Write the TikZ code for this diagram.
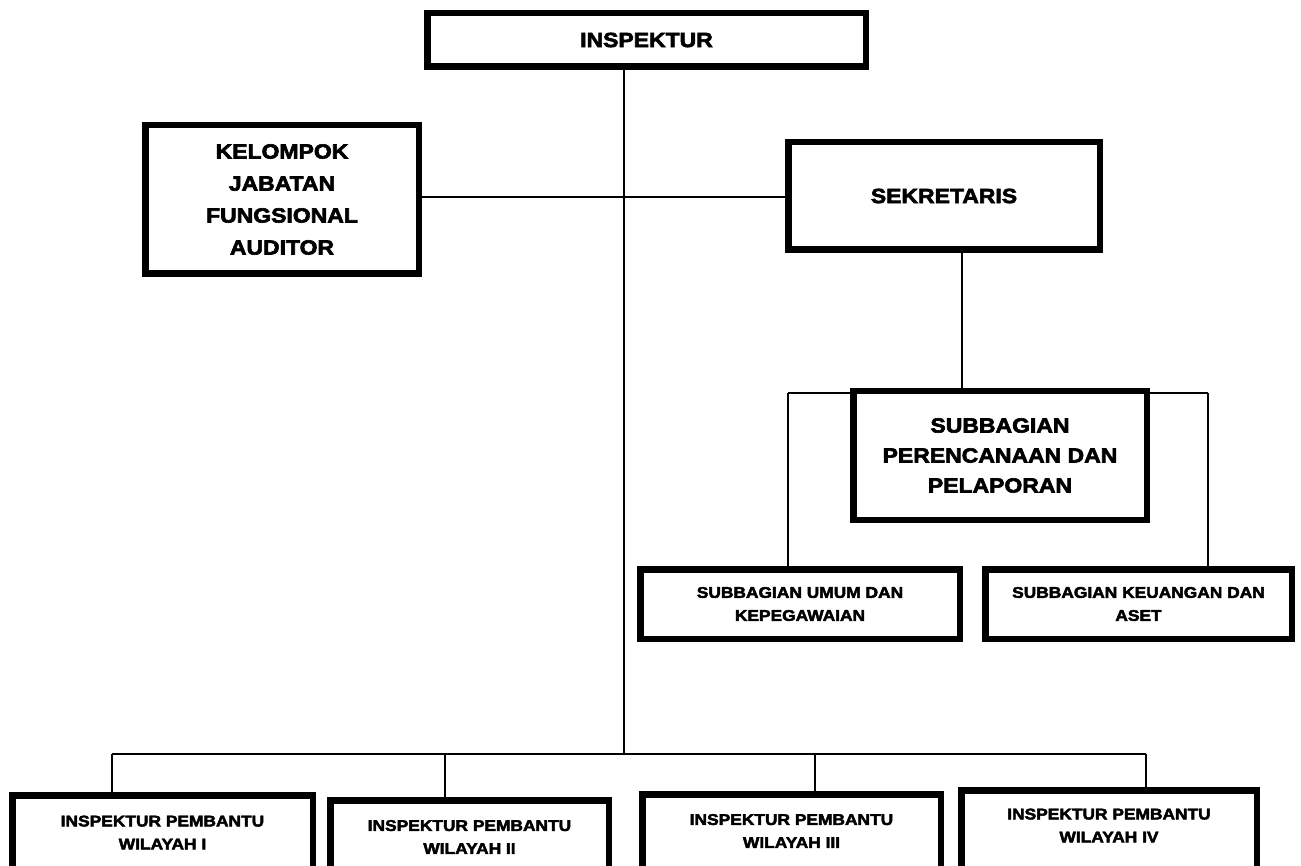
\documentclass[tikz,border=0pt]{standalone}
\usepackage{fontspec}
\newfontfamily\blk{Liberation Sans Bold}[FakeStretch=1.12,FakeBold=3]
\usetikzlibrary{backgrounds}
\tikzset{
  box/.style={draw=black, fill=white, line width=6.5pt, inner sep=0pt, outer sep=0pt, align=center, text=black},
  bigtxt/.style={font=\blk\fontsize{20.5}{32}\selectfont},
  smalltxt/.style={font=\blk\fontsize{15.5}{23}\selectfont},
  txt/.style={inner sep=0pt, align=center, text=black},
  conn/.style={draw=black, line width=1.8pt}
}
\begin{document}
\begin{tikzpicture}[x=1pt,y=-1pt]
\useasboundingbox (0,0) rectangle (1301,866);
\clip (0,0) rectangle (1301,866);
% main boxes
\node[box,bigtxt,minimum width=438.5pt,minimum height=53.5pt] (insp) at (646.5,40) {INSPEKTUR};
\node[box,bigtxt,minimum width=273.5pt,minimum height=148.5pt] (kel) at (282,199.5) {KELOMPOK\\JABATAN\\FUNGSIONAL\\AUDITOR};
\node[box,bigtxt,minimum width=311.5pt,minimum height=107.5pt] (sek) at (944,196) {SEKRETARIS};
\node[box,font=\blk\fontsize{20.5}{30}\selectfont,minimum width=293.5pt,minimum height=128.5pt] (per) at (1000,455.5) {SUBBAGIAN\\PERENCANAAN DAN\\PELAPORAN};
\node[box,smalltxt,minimum width=319.5pt,minimum height=69.5pt] (umum) at (800,604) {SUBBAGIAN UMUM DAN\\KEPEGAWAIAN};
\node[box,smalltxt,minimum width=306.5pt,minimum height=69.5pt] (keu) at (1138.5,604) {SUBBAGIAN KEUANGAN DAN\\ASET};
% bottom boxes (cut by the page edge)
\node[box,anchor=north,minimum width=300.5pt,minimum height=120pt] (b1) at (162.5,795.25) {};
\node[box,anchor=north,minimum width=278.5pt,minimum height=120pt] (b2) at (469.5,800.25) {};
\node[box,anchor=north,minimum width=298.5pt,minimum height=120pt] (b3) at (791.5,794.25) {};
\node[box,anchor=north,minimum width=295.5pt,minimum height=120pt] (b4) at (1109,790.25) {};
\node[txt,smalltxt] (t1) at (162.5,832.5) {INSPEKTUR PEMBANTU\\WILAYAH I};
\node[txt,smalltxt] (t2) at (469.5,837) {INSPEKTUR PEMBANTU\\WILAYAH II};
\node[txt,smalltxt] (t3) at (791.5,831) {INSPEKTUR PEMBANTU\\WILAYAH III};
\node[txt,smalltxt] (t4) at (1109,825.5) {INSPEKTUR PEMBANTU\\WILAYAH IV};
% connector coordinates
\coordinate (trunk) at (624,754);
\coordinate (bar1) at (112,754);
\coordinate (bar2) at (445,754);
\coordinate (bar3) at (815,754);
\coordinate (bar4) at (1146,754);
\coordinate (xs) at (962,300);
\coordinate (brL) at (788,393);
\coordinate (brR) at (1208,393);
\coordinate (hy) at (600,197);
\begin{scope}[on background layer]
  \draw[conn] (insp.south -| trunk) -- (trunk);
  \draw[conn] (kel.east |- hy) -- (sek.west |- hy);
  \draw[conn] (bar1) -- (bar4);
  \draw[conn] (bar1) -- (b1.north -| bar1);
  \draw[conn] (bar2) -- (b2.north -| bar2);
  \draw[conn] (bar3) -- (b3.north -| bar3);
  \draw[conn] (bar4) -- (b4.north -| bar4);
  \draw[conn] (sek.south -| xs) -- (per.north -| xs);
  \draw[conn] (brL) -- (brR);
  \draw[conn] (brL) -- (umum.north -| brL);
  \draw[conn] (brR) -- (keu.north -| brR);
\end{scope}
\end{tikzpicture}
\end{document}
